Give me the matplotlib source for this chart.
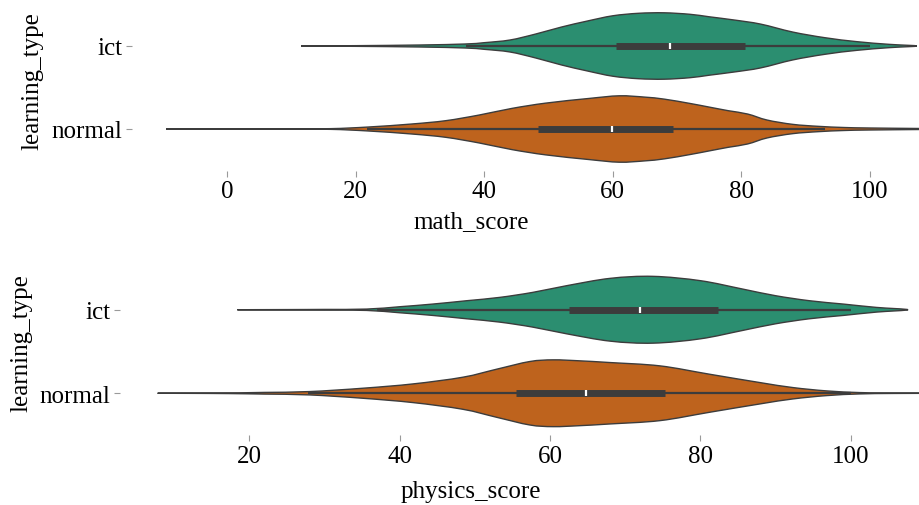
import colorsys
import matplotlib
matplotlib.use('Agg')
import matplotlib.pyplot as plt
from matplotlib.colors import to_rgb
from matplotlib.path import Path
from matplotlib.patches import PathPatch

plt.rcParams['font.family'] = ['Liberation Serif', 'DejaVu Serif']

categories = ['ict', 'normal']

# violin outlines: score positions and relative half widths (1 = widest)
math_ict_x = [11.5, 20, 30, 37, 40, 44, 48, 52, 56, 60, 64, 68, 72, 75, 79, 83, 88, 93, 98, 103, 107.3]
math_ict_w = [0, .01, .03, .06, .10, .18, .36, .57, .75, .91, .985, 1.0, .955, .88, .78, .66, .42, .25, .13, .05, 0]
math_normal_x = [-9.5, 0, 8, 16, 22, 28.7, 34, 39.2, 44.3, 49.6, 56.3, 61, 65, 68, 72, 75, 78, 81, 84, 88, 92, 96, 100, 108, 116]
math_normal_w = [0, .004, .006, .01, .06, .15, .25, .42, .62, .78, .92, 1.0, .96, .9, .77, .66, .55, .45, .27, .14, .08, .045, .03, .015, 0]

phys_ict_x = [18.4, 25, 30, 35.6, 40, 44.4, 48.9, 53.3, 57.7, 62.2, 68, 73.7, 80, 85.6, 90, 94.5, 99, 103.4, 107.6]
phys_ict_w = [0, .005, .01, .02, .09, .17, .27, .37, .52, .72, .94, 1.0, .87, .62, .42, .27, .17, .07, 0]
phys_normal_x = [7.8, 12, 17.4, 22, 28, 35.1, 41.8, 48.4, 52.9, 57.3, 60.4, 64, 67.9, 74.6, 81.2, 87.9, 92.3, 96.8, 101.2, 105.6, 112]
phys_normal_w = [0, .003, .01, .025, .05, .15, .28, .48, .72, .95, 1.0, .97, .92, .82, .57, .32, .17, .07, .02, .006, 0]

# box stats: whisker low, q1, median, q3, whisker high
math_box = {'ict': [37.1, 60.5, 68.9, 80.5, 100.0], 'normal': [21.7, 48.4, 59.9, 69.4, 93.0]}
phys_box = {'ict': [37.0, 62.5, 71.9, 82.3, 100.0], 'normal': [27.8, 55.5, 64.8, 75.3, 100.0]}


def desat(c, prop=0.75):
    h, l, s = colorsys.rgb_to_hls(*to_rgb(c))
    return colorsys.hls_to_rgb(h, l, s * prop)


colors = [desat('#1b9e77'), desat('#d95f02')]
line_col = '#3c3c3c'


def smooth_path(pts):
    # closed Catmull-Rom outline drawn as cubic Bezier segments
    n = len(pts)
    verts = [pts[0]]
    codes = [Path.MOVETO]
    for k in range(n):
        p0, p1, p2, p3 = pts[k - 1], pts[k], pts[(k + 1) % n], pts[(k + 2) % n]
        c1 = (p1[0] + (p2[0] - p0[0]) / 6, p1[1] + (p2[1] - p0[1]) / 6)
        c2 = (p2[0] - (p3[0] - p1[0]) / 6, p2[1] - (p3[1] - p1[1]) / 6)
        verts += [c1, c2, p2]
        codes += [Path.CURVE4] * 3
    return Path(verts, codes)


def violin_panel(ax, shapes, boxes, xlim, xticks, xlabel):
    for i, (cat, (xs, ws)) in enumerate(zip(categories, shapes)):
        top = [(x, i - 0.4 * w) for x, w in zip(xs, ws)]
        bot = [(x, i + 0.4 * w) for x, w in zip(xs, ws)][::-1]
        pts = top + bot[1:-1]
        ax.add_patch(PathPatch(smooth_path(pts), facecolor=colors[i], edgecolor=line_col,
                               linewidth=1.0, zorder=1))
        wl, q1, med, q3, wh = boxes[cat]
        ax.plot([wl, wh], [i, i], color=line_col, lw=1.6, solid_capstyle='butt', zorder=2)
        ax.plot([q1, q3], [i, i], color=line_col, lw=5, solid_capstyle='butt', zorder=3)
        ax.plot([med], [i], marker='|', color='white', ms=5, mew=1.6, zorder=4)
    ax.set_xlim(*xlim)
    ax.set_ylim(1.5, -0.5)
    ax.set_yticks(range(len(categories)))
    ax.set_yticklabels(categories)
    ax.set_xticks(xticks)
    for s in ax.spines.values():
        s.set_visible(False)
    ax.tick_params(axis='both', length=4, width=0.8, color='#9a9a9a', labelsize=18, pad=3)
    ax.set_xlabel(xlabel, fontsize=18)
    ax.set_ylabel('learning_type', fontsize=18)


fig = plt.figure(figsize=(9.2, 5.06), dpi=100)
ax1 = fig.add_axes([132 / 920, 1 - 171.5 / 506, 788 / 920, 166 / 506])
ax2 = fig.add_axes([120 / 920, 1 - 436 / 506, 800 / 920, 167 / 506])

violin_panel(ax1, [(math_ict_x, math_ict_w), (math_normal_x, math_normal_w)], math_box,
             (-14.8, 107.8), [0, 20, 40, 60, 80, 100], 'math_score')
violin_panel(ax2, [(phys_ict_x, phys_ict_w), (phys_normal_x, phys_normal_w)], phys_box,
             (2.8, 109.2), [20, 40, 60, 80, 100], 'physics_score')

ax1.xaxis.set_label_coords(0.430, -0.238)
ax2.xaxis.set_label_coords(0.439, -0.269)
ax1.yaxis.set_label_coords(-0.113, 0.545)
ax2.yaxis.set_label_coords(-0.109, 0.557)

fig.savefig('out.png', dpi=100)
